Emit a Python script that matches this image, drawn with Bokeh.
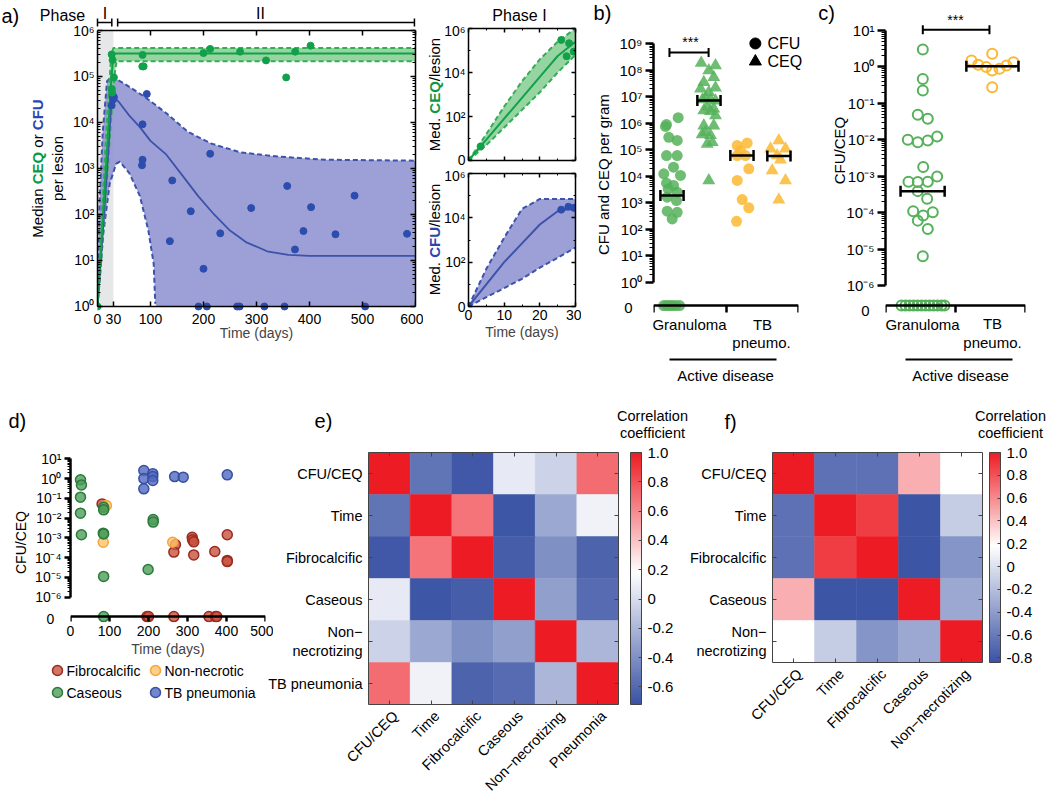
import math
from bokeh.plotting import figure
from bokeh.models import (Range1d, LogAxis, LinearAxis, FixedTicker, CustomJSTickFormatter,
                          Label, Arrow, TeeHead, ColorBar, LinearColorMapper, ColumnDataSource)
from bokeh.embed import file_html
from bokeh.resources import INLINE

FONT = "Liberation Sans"

# ======================= DATA =======================
# ---- panel a (main): model curves, log10 values ----
phase_I_days = [0, 30]
phase_II_days = [30, 600]
a_xticks = [0, 30, 100, 200, 300, 400, 500, 600]
a_ceq_t = [0, 5, 10, 15, 20, 25, 28, 30, 33, 36, 600]
a_ceq_med = [0, 0.95, 1.9, 2.85, 3.8, 4.75, 5.2, 5.45, 5.5, 5.5, 5.5]
a_ceq_hi = [0, 1.2, 2.4, 3.5, 4.5, 5.3, 5.55, 5.62, 5.62, 5.62, 5.62]
a_ceq_lo = [0, 0.7, 1.5, 2.3, 3.1, 4.0, 4.4, 4.7, 5.1, 5.33, 5.33]
a_cfu_med_t = [0, 10, 20, 27, 40, 60, 80, 100, 130, 160, 190, 220, 250, 280, 320, 360, 400, 600]
a_cfu_med = [0, 1.6, 3.3, 4.6, 4.45, 4.15, 3.9, 3.6, 3.3, 2.85, 2.4, 2.0, 1.65, 1.4, 1.2, 1.12, 1.1, 1.1]
a_cfu_hi_t = [0, 4, 10, 18, 27, 50, 90, 130, 170, 215, 270, 340, 430, 600]
a_cfu_hi = [0, 2.3, 3.8, 4.9, 5.0, 4.85, 4.55, 4.2, 3.8, 3.54, 3.35, 3.26, 3.19, 3.17]
a_cfu_lo_t = [0, 11, 23, 35, 42, 60, 80, 96, 106, 109, 112, 600]
a_cfu_lo = [0, 1.6, 2.67, 3.1, 3.15, 2.9, 2.4, 1.65, 0.93, 0.06, 0, 0]
a_ceq_pts_t = [0, 26.7, 28.5, 31, 27, 27.5, 85, 84.5, 87, 200, 212.6, 269, 318, 356, 373, 402]
a_ceq_pts_log = [0, 5.48, 5.36, 4.98, 4.73, 4.65, 5.47, 5.22, 5.22, 5.51, 5.6, 5.54, 5.35, 4.98, 5.54, 5.67]
a_cfu_pts_t = [26.7, 31, 28.5, 29.5, 93, 85, 85, 84, 212.6, 141, 176, 136.5, 231.6, 200, 290, 358,
               403, 388.6, 372.6, 449, 485, 584, 190.6, 206.4, 263.5, 268.2, 314.8, 352.9, 505]
a_cfu_pts_log = [4.37, 4.55, 4.6, 4.5, 4.62, 3.96, 3.19, 3.07, 3.32, 2.74, 2.07, 1.42, 1.59, 0.82, 2.14, 2.62,
                 2.16, 1.64, 1.24, 1.57, 2.41, 1.58, 0, 0, 0, 0, 0, 0, 0]
# ---- panel a insets (Phase I) ----
i_t = [0, 5, 10, 15, 20, 25, 30]
i_ceq_med = [0, 0.95, 1.9, 2.85, 3.8, 4.75, 5.4]
i_ceq_hi = [0, 1.2, 2.45, 3.6, 4.6, 5.4, 6.0]
i_ceq_lo = [0, 0.7, 1.5, 2.3, 3.1, 4.0, 4.8]
i_ceq_pts_t = [0, 3.4, 26, 28.2, 27.5, 29.5]
i_ceq_pts_log = [0, 0.64, 5.48, 5.33, 4.74, 4.95]
i_cfu_med = [0, 1.0, 2.0, 2.85, 3.7, 4.3, 4.47]
i_cfu_hi = [0, 1.7, 3.1, 4.4, 4.85, 4.85, 4.85]
i_cfu_lo = [0, 0.42, 0.83, 1.25, 1.75, 2.2, 2.66]
i_cfu_pts_t = [0, 26, 28, 29.5]
i_cfu_pts_log = [0, 4.37, 4.5, 4.45]
# ---- panel b: CFU and CEQ per gram (log10) ----
b_group_names = ["Granuloma", "TB", "pneumo."]
b_gcfu_x = [0.681, 0.359, 0.331, 0.422, 0.654, 0.359, 0.654, 0.552, 0.284, 0.745, 0.359, 0.552, 0.406,
            0.654, 0.378, 0.634, 0.378, 0.654, 0.516]
b_gcfu_log = [6.21, 5.95, 5.88, 5.47, 5.35, 4.78, 4.78, 4.34, 4.09, 4.03, 3.74, 3.65, 3.52, 3.40, 3.21,
              3.08, 2.68, 2.64, 2.39]
b_gcfu_zero_x = [0.28, 0.36, 0.44, 0.52, 0.61, 0.72]
b_gceq_x = [1.316, 1.710, 1.526, 1.663, 1.388, 1.297, 1.710, 1.526, 1.434, 1.572, 1.710, 1.352, 1.481,
            1.663, 1.388, 1.572, 1.710, 1.388, 1.663, 1.434, 1.572, 1.343, 1.619, 1.481, 1.526]
b_gceq_log = [8.27, 8.18, 7.99, 7.74, 7.55, 7.3, 7.34, 7.17, 6.95, 6.9, 6.85, 6.9, 6.62, 6.55, 6.48, 6.45,
              6.29, 5.91, 5.91, 5.66, 5.55, 5.58, 5.28, 5.22, 3.84]
b_tcfu_x = [2.309, 2.585, 2.400, 2.538, 2.309, 2.629, 2.309, 2.447, 2.629, 2.290]
b_tcfu_log = [5.16, 5.25, 4.97, 4.78, 4.78, 4.28, 3.84, 3.12, 2.81, 2.30]
b_tceq_x = [3.457, 3.228, 3.641, 3.412, 3.503, 3.274, 3.641, 3.457]
b_tceq_log = [5.35, 5.04, 5.04, 4.78, 4.62, 4.22, 3.84, 3.11]
b_median_x = [0.51, 1.53, 2.44, 3.46]
b_median_log = [3.27, 6.86, 4.78, 4.76]
# ---- panel c: CFU/CEQ (log10) ----
c_gran_x = [1.066, 1.066, 1.066, 0.923, 1.209, 0.637, 0.923, 1.209, 1.477, 1.077, 1.477, 0.657, 0.923,
            1.209, 0.923, 1.19, 0.791, 1.077, 1.351, 0.923, 1.209, 1.066]
c_gran_log = [0.48, -0.33, -0.65, -1.31, -1.42, -2.0, -2.07, -2.02, -1.91, -2.75, -3.01, -3.15, -3.16,
              -3.15, -3.41, -3.62, -3.96, -4.08, -3.99, -4.22, -4.45, -5.2]
c_gran_zero_x = [0.457, 0.571, 0.686, 0.8, 0.914, 1.029, 1.143, 1.257, 1.371, 1.486, 1.6, 1.686]
c_tb_x = [3.049, 2.457, 2.649, 2.877, 3.049, 3.257, 3.457, 3.657, 3.049]
c_tb_log = [0.36, 0.18, 0.06, 0.0, -0.1, -0.05, 0.04, 0.13, -0.56]
c_median_span = [[0.43, 1.69], [2.31, 3.80]]
c_median_log = [-3.41, 0.02]
# ---- panel d: CFU/CEQ vs time ----
d_fib_t = [81, 312, 313, 316, 269, 265, 316, 370, 402, 402, 402]
d_fib_log = [-1.28, -2.97, -3.1, -3.2, -3.34, -3.72, -3.86, -3.69, -2.84, -4.14, -4.2]
d_fib_zero_t = [196, 200, 265, 355, 372, 375]
d_non_t = [92, 84, 262]
d_non_log = [-1.36, -3.22, -3.22]
d_cas_t = [25.6, 28, 25.6, 25.6, 28, 85, 85, 84, 85, 85, 212, 212, 199]
d_cas_log = [-0.06, -0.32, -0.94, -1.75, -2.84, -1.45, -1.58, -2.76, -2.8, -4.95, -2.07, -2.2, -4.6]
d_cas_zero_t = [85]
d_tb_t = [188, 188, 188, 211, 211, 211, 267, 289, 402]
d_tb_log = [0.41, 0.0, -0.52, 0.25, 0.1, -0.1, 0.1, 0.07, 0.19]
d_names = ["Fibrocalcific", "Non-necrotic", "Caseous", "TB pneumonia"]
d_xticks = [0, 100, 200, 300, 400, 500]
# ---- panel e / f: correlation matrices ----
e_rows = ["CFU/CEQ", "Time", "Fibrocalcific", "Caseous", "Non\u2212\nnecrotizing", "TB pneumonia"]
e_cols = ["CFU/CEQ", "Time", "Fibrocalcific", "Caseous", "Non\u2212necrotizing", "Pneumonia"]
e_corr = [[1.00, -0.54, -0.69, 0.07, -0.05, 0.71],
          [-0.54, 1.00, 0.68, -0.70, -0.27, 0.11],
          [-0.69, 0.68, 1.00, -0.66, -0.40, -0.63],
          [0.07, -0.70, -0.66, 1.00, -0.32, -0.59],
          [-0.05, -0.27, -0.40, -0.32, 1.00, -0.20],
          [0.71, 0.11, -0.63, -0.59, -0.20, 1.00]]
e_ticks = [-0.6, -0.4, -0.2, 0, 0.2, 0.4, 0.6, 0.8, 1.0]
f_rows = ["CFU/CEQ", "Time", "Fibrocalcific", "Caseous", "Non\u2212\nnecrotizing"]
f_cols = ["CFU/CEQ", "Time", "Fibrocalcific", "Caseous", "Non\u2212necrotizing"]
f_corr = [[1.00, -0.66, -0.66, 0.47, 0.18],
          [-0.66, 1.00, 0.88, -0.82, -0.12],
          [-0.66, 0.88, 1.00, -0.82, -0.45],
          [0.47, -0.82, -0.82, 1.00, -0.33],
          [0.18, -0.12, -0.45, -0.33, 1.00]]
f_ticks = [-0.8, -0.6, -0.4, -0.2, 0, 0.2, 0.4, 0.6, 0.8, 1.0]

# ======================= HELPERS =======================
SUP_CODE = """
const m = {"-":"\u207b","0":"\u2070","1":"\u00b9","2":"\u00b2","3":"\u00b3","4":"\u2074","5":"\u2075","6":"\u2076","7":"\u2077","8":"\u2078","9":"\u2079"};
const e = Math.round(Math.log10(tick));
if (zl && e == 0) { return "0"; }
return "10" + String(e).split("").map(c => m[c]).join("");
"""


def sup_fmt(zero=False):
    return CustomJSTickFormatter(args=dict(zl=zero), code=SUP_CODE)


def P(arr):
    return [10.0 ** v for v in arr]


def decades(a, b):
    return [10.0 ** d for d in range(a, b + 1)]


def log_minor(a, b):
    return [k * 10.0 ** d for d in range(a, b) for k in range(2, 10)]


def mkfig(name, w, h, l, r, t, b, xr, yr, ylog=False):
    p = figure(name=name, width=w, height=h, x_range=xr, y_range=yr,
               y_axis_type="log" if ylog else "linear",
               min_border_left=l, min_border_right=r, min_border_top=t, min_border_bottom=b,
               output_backend="svg", toolbar_location=None)
    p.grid.visible = False
    p.outline_line_color = None
    p.background_fill_color = "white"
    p.border_fill_color = "white"
    return p


def style_axis(ax, size=14, lw=1.5, tin=0, tout=5, mtin=0, mtout=0, show=True, color="black"):
    ax.axis_line_width = lw
    ax.axis_line_color = color
    ax.major_tick_line_width = lw
    ax.minor_tick_line_width = 1
    ax.major_tick_line_color = color
    ax.minor_tick_line_color = color
    ax.major_tick_in = tin
    ax.major_tick_out = tout
    ax.minor_tick_in = mtin
    ax.minor_tick_out = mtout
    ax.major_label_text_font = FONT
    ax.major_label_text_font_size = f"{size}px"
    ax.major_label_text_color = "black"
    ax.major_label_standoff = 3
    ax.axis_label_text_font = FONT
    ax.axis_label_text_font_size = f"{size}px"
    ax.axis_label_text_font_style = "normal"
    ax.axis_label_standoff = 3
    if not show:
        ax.formatter = CustomJSTickFormatter(code="return '';")
        ax.major_label_text_color = None
        ax.major_label_text_font_size = "0px"
        ax.major_label_standoff = 0


def labels_only_axis(ticks, size, label, standoff, label_standoff):
    ax = LinearAxis(ticker=FixedTicker(ticks=ticks))
    style_axis(ax, size=size)
    ax.axis_line_color = None
    ax.major_tick_line_color = None
    ax.minor_tick_line_color = None
    ax.major_label_standoff = standoff
    ax.axis_label = label
    ax.axis_label_standoff = label_standoff
    return ax


def box_axes(p, xt, xm, yt, ym, ylog, lw=1.5, tin=5, mtin=3, color="black", xb=None, yb=None):
    ta = LinearAxis(ticker=FixedTicker(ticks=xt, minor_ticks=xm))
    style_axis(ta, lw=lw, tin=tin, tout=0, mtin=mtin, show=False, color=color)
    if xb:
        ta.bounds = xb
    p.add_layout(ta, "above")
    ra = (LogAxis if ylog else LinearAxis)(ticker=FixedTicker(ticks=yt, minor_ticks=ym))
    style_axis(ra, lw=lw, tin=tin, tout=0, mtin=mtin, show=False, color=color)
    if yb:
        ra.bounds = yb
    p.add_layout(ra, "right")


GREEN_A = "#12a14b"
GREEN_BAND = "#7cc98a"
GREEN_DASH = "#35ad57"
BLUE_A = "#2d4dae"
BLUE_BAND = "#9296d2"
BLUE_DASH = "#3d52aa"
GREEN_TXT = "#0a9a45"
BLUE_TXT = "#2b46b0"
GREEN_B = "#55b15a"
ORANGE = "#fbb833"

# ======================= PANEL a (main) =======================
fa = mkfig("fa", 381, 349, 55, 8, 8, 60, Range1d(0, 600), Range1d(10 ** -0.109, 1e6), ylog=True)
ya = fa.yaxis[0]
ya.ticker = FixedTicker(ticks=decades(0, 6), minor_ticks=log_minor(0, 6))
ya.formatter = sup_fmt()
ya.bounds = (1, 1e6)
style_axis(ya, tin=5, tout=0, mtin=3)
xa = fa.xaxis[0]
xa.ticker = FixedTicker(ticks=a_xticks)
xa.fixed_location = 1
xa.bounds = (0, 600)
style_axis(xa, tin=5, tout=0, show=False)
fa.add_layout(labels_only_axis(a_xticks, 14, "Time (days)", -3, -2), "below")
box_axes(fa, a_xticks[2:], [], decades(0, 6), log_minor(0, 6), True, xb=(0, 600), yb=(1, 1e6))

fa.quad(left=phase_I_days[0], right=phase_I_days[1], bottom=1, top=1e6, fill_color="#e6e7e8", line_color=None)
fa.patch(a_cfu_hi_t + a_cfu_lo_t[::-1], P(a_cfu_hi) + P(a_cfu_lo[::-1]), fill_color=BLUE_BAND,
         fill_alpha=0.9, line_color=None)
fa.patch(a_ceq_t + a_ceq_t[::-1], P(a_ceq_hi) + P(a_ceq_lo[::-1]), fill_color=GREEN_BAND,
         fill_alpha=0.8, line_color=None)
fa.line(a_cfu_hi_t, P(a_cfu_hi), line_color=BLUE_DASH, line_dash="5 3", line_width=2)
fa.line(a_cfu_lo_t[:10], P(a_cfu_lo[:10]), line_color=BLUE_DASH, line_dash="5 3", line_width=2)
fa.line(a_ceq_t, P(a_ceq_hi), line_color=GREEN_DASH, line_dash="5 3", line_width=2)
fa.line(a_ceq_t, P(a_ceq_lo), line_color=GREEN_DASH, line_dash="5 3", line_width=2)
fa.line(a_cfu_med_t, P(a_cfu_med), line_color=BLUE_DASH, line_width=1.8)
fa.line(a_ceq_t, P(a_ceq_med), line_color=GREEN_A, line_width=2)
fa.scatter(a_cfu_pts_t, P(a_cfu_pts_log), size=7, color=BLUE_A)
fa.scatter(a_ceq_pts_t, P(a_ceq_pts_log), size=7, color=GREEN_A)


# ======================= PANEL a insets =======================
def inset(name, h, top, bottom, show_x):
    p = mkfig(name, 151, h, 38, 6, top, bottom, Range1d(0, 30), Range1d(1, 1e6), ylog=True)
    y = p.yaxis[0]
    y.ticker = FixedTicker(ticks=[1, 1e2, 1e4, 1e6], minor_ticks=[10, 1e3, 1e5])
    y.formatter = sup_fmt(True)
    style_axis(y, tin=4, tout=0, mtin=2)
    x = p.xaxis[0]
    x.ticker = FixedTicker(ticks=[0, 10, 20, 30], minor_ticks=[5, 15, 25])
    style_axis(x, tin=4, tout=0, mtin=2, show=show_x)
    if show_x:
        x.axis_label = "Time (days)"
        x.axis_label_standoff = 1
    box_axes(p, [0, 10, 20, 30], [5, 15, 25], [1, 1e2, 1e4, 1e6], [10, 1e3, 1e5], True, tin=4, mtin=2)
    return p


fi1 = inset("fi1", 145, 6, 7, False)
fi1.patch(i_t + i_t[::-1], P(i_ceq_hi) + P(i_ceq_lo[::-1]), fill_color=GREEN_BAND, fill_alpha=0.8, line_color=None)
fi1.line(i_t, P(i_ceq_hi), line_color=GREEN_DASH, line_dash="5 3", line_width=2)
fi1.line(i_t, P(i_ceq_lo), line_color=GREEN_DASH, line_dash="5 3", line_width=2)
fi1.line(i_t, P(i_ceq_med), line_color=GREEN_A, line_width=2)
fi1.scatter(i_ceq_pts_t, P(i_ceq_pts_log), size=7, color=GREEN_A)

fi2 = inset("fi2", 187, 6, 48, True)
fi2.patch(i_t + i_t[::-1], P(i_cfu_hi) + P(i_cfu_lo[::-1]), fill_color=BLUE_BAND, fill_alpha=0.9, line_color=None)
fi2.line(i_t, P(i_cfu_hi), line_color=BLUE_DASH, line_dash="5 3", line_width=2)
fi2.line(i_t, P(i_cfu_lo), line_color=BLUE_DASH, line_dash="5 3", line_width=2)
fi2.line(i_t, P(i_cfu_med), line_color=BLUE_DASH, line_width=2)
fi2.scatter(i_cfu_pts_t, P(i_cfu_pts_log), size=7, color=BLUE_A)

# ======================= PANEL b =======================
b_zero = 10 ** -0.88
fb = mkfig("fb", 196, 303, 45, 6, 6, 14, Range1d(0, 4), Range1d(10 ** -1.18, 10 ** 9.5), ylog=True)
y = fb.yaxis[0]
y.ticker = FixedTicker(ticks=decades(0, 9), minor_ticks=log_minor(0, 9))
y.formatter = sup_fmt()
y.bounds = (1, 1e9)
style_axis(y, size=15, lw=2.5, tin=0, tout=8, mtout=4)
x = fb.xaxis[0]
x.ticker = FixedTicker(ticks=[0, 2, 4])
x.fixed_location = b_zero
style_axis(x, lw=2.5, tin=0, tout=7, show=False)

fb.scatter(b_gcfu_x, P(b_gcfu_log), size=11, fill_color=GREEN_B, fill_alpha=0.85, line_color=None)
fb.scatter(b_gcfu_zero_x, [b_zero] * len(b_gcfu_zero_x), size=11, fill_color=GREEN_B, fill_alpha=0.85,
           line_color=None)
fb.scatter(b_gceq_x, P(b_gceq_log), marker="triangle", size=13, fill_color=GREEN_B, fill_alpha=0.85,
           line_color=None)
fb.scatter(b_tcfu_x, P(b_tcfu_log), size=11, fill_color=ORANGE, fill_alpha=0.85, line_color=None)
fb.scatter(b_tceq_x, P(b_tceq_log), marker="triangle", size=13, fill_color=ORANGE, fill_alpha=0.85,
           line_color=None)
hw = 0.32
fb.segment([c - hw for c in b_median_x], P(b_median_log), [c + hw for c in b_median_x], P(b_median_log),
           line_color="black", line_width=2.5)
fb.scatter([c - hw for c in b_median_x] + [c + hw for c in b_median_x], P(b_median_log) * 2, marker="dash",
           angle=math.pi / 2, size=11, line_color="black", line_width=2.5)
sig_b = [0.44, 1.52]
fb.segment([sig_b[0]], [10 ** 8.67], [sig_b[1]], [10 ** 8.67], line_color="black", line_width=2)
fb.scatter(sig_b, [10 ** 8.67] * 2, marker="dash", angle=math.pi / 2, size=9, line_color="black", line_width=2)
fb.scatter([2.81], [10 ** 9.01], size=11, color="black")
fb.scatter([2.81], [10 ** 8.33], marker="triangle", size=12, color="black")

# ======================= PANEL c =======================
c_zero = 10 ** -6.55
fc = mkfig("fc", 191, 311, 45, 6, 6, 14, Range1d(0, 4), Range1d(10 ** -6.77, 10 ** 1.22), ylog=True)
y = fc.yaxis[0]
y.ticker = FixedTicker(ticks=decades(-6, 1), minor_ticks=log_minor(-6, 1))
y.formatter = sup_fmt()
y.bounds = (1e-6, 10)
style_axis(y, size=15, lw=2.5, tin=0, tout=8, mtout=4)
x = fc.xaxis[0]
x.ticker = FixedTicker(ticks=[0, 2, 4])
x.fixed_location = c_zero
style_axis(x, lw=2.5, tin=0, tout=7, show=False)
fc.scatter(c_gran_x, P(c_gran_log), size=10, fill_color=None, line_color=GREEN_B, line_width=2)
fc.scatter(c_gran_zero_x, [c_zero] * len(c_gran_zero_x), size=10, fill_color=None, line_color=GREEN_B,
           line_width=2)
fc.scatter(c_tb_x, P(c_tb_log), size=10, fill_color=None, line_color=ORANGE, line_width=2)
for span, m in zip(c_median_span, c_median_log):
    fc.segment([span[0]], [10 ** m], [span[1]], [10 ** m], line_color="black", line_width=2.5)
    fc.scatter(span, [10 ** m] * 2, marker="dash", angle=math.pi / 2, size=11, line_color="black", line_width=2.5)
sig_c = [1.066, 2.97]
fc.segment([sig_c[0]], [10 ** 1.02], [sig_c[1]], [10 ** 1.02], line_color="black", line_width=2)
fc.scatter(sig_c, [10 ** 1.02] * 2, marker="dash", angle=math.pi / 2, size=9, line_color="black", line_width=2)

# ======================= PANEL d =======================
d_zero = 10 ** -6.98
fd = mkfig("fd", 248, 233, 45, 8, 6, 55, Range1d(0, 500), Range1d(10 ** -7.28, 10 ** 1.42), ylog=True)
y = fd.yaxis[0]
y.ticker = FixedTicker(ticks=decades(-6, 1), minor_ticks=log_minor(-6, 1))
y.formatter = sup_fmt()
y.bounds = (1e-6, 10)
style_axis(y, size=14, lw=2.5, tin=0, tout=6, mtout=3)
x = fd.xaxis[0]
x.ticker = FixedTicker(ticks=d_xticks)
x.fixed_location = d_zero
style_axis(x, lw=2.5, tin=0, tout=5, show=False)
fd.add_layout(labels_only_axis(d_xticks, 14, "Time (days)", -2, 2), "below")
DCOL = {"fib": ("#c8523f", "#9a2b20"), "non": ("#fdc36b", "#f5a53a"), "cas": ("#4e9d5b", "#2d7a3b"),
        "tb": ("#5069bf", "#3a4fa3")}


def dsc(p, t, yv, key):
    return p.scatter(t, yv, size=10, fill_color=DCOL[key][0], fill_alpha=0.8, line_color=DCOL[key][1],
                     line_width=1.5)


dsc(fd, d_fib_t, P(d_fib_log), "fib")
dsc(fd, d_fib_zero_t, [d_zero] * len(d_fib_zero_t), "fib")
dsc(fd, d_non_t, P(d_non_log), "non")
dsc(fd, d_cas_t, P(d_cas_log), "cas")
dsc(fd, d_cas_zero_t, [d_zero] * len(d_cas_zero_t), "cas")
dsc(fd, d_tb_t, P(d_tb_log), "tb")


# ======================= PANELS e, f =======================
def make_palette(low, high, mid, n=256):
    blue = (58, 83, 164)
    red = (237, 28, 36)
    out = []
    for k in range(n):
        v = low + (high - low) * k / (n - 1)
        if v <= mid:
            t = (v - low) / (mid - low)
            c = [blue[i] + (255 - blue[i]) * t for i in range(3)]
        else:
            t = (v - mid) / (high - mid)
            c = [255 + (red[i] - 255) * t for i in range(3)]
        out.append("#%02x%02x%02x" % tuple(int(round(z)) for z in c))
    return out


def heatmap(name, w, h, l, r, fh, rows, cols, corr, low, high, ticks, cb_x):
    nr, nc = len(rows), len(cols)
    p = mkfig(name, w, h, l, r, 14, 6, Range1d(0, nc), Range1d(0, nr))
    mapper = LinearColorMapper(palette=make_palette(low, high, 0.18), low=low, high=high)
    xs, ys, vs = [], [], []
    for i in range(nr):
        for j in range(nc):
            xs.append(j + 0.5)
            ys.append(nr - 1 - i + 0.5)
            vs.append(corr[i][j])
    src = ColumnDataSource(dict(x=xs, y=ys, v=vs))
    p.rect(x="x", y="y", width=1, height=1, source=src, fill_color={"field": "v", "transform": mapper},
           line_color={"field": "v", "transform": mapper}, line_width=0.5)
    xt = [j + 0.5 for j in range(nc)]
    yt = [i + 0.5 for i in range(nr)]
    p.xaxis[0].ticker = FixedTicker(ticks=xt)
    style_axis(p.xaxis[0], lw=1, tin=4, tout=0, show=False, color="#444")
    p.yaxis[0].ticker = FixedTicker(ticks=yt)
    style_axis(p.yaxis[0], lw=1, tin=4, tout=0, show=False, color="#444")
    box_axes(p, xt, [], yt, [], False, lw=1, tin=4, mtin=0, color="#444")
    cb = ColorBar(color_mapper=mapper, location=(cb_x, 0), width=11, height=fh, padding=0, margin=0,
                  ticker=FixedTicker(ticks=ticks),
                  formatter=CustomJSTickFormatter(code="return Math.abs(tick) < 1e-9 ? '0' : tick.toFixed(1);"),
                  major_label_text_font=FONT, major_label_text_font_size="15px", major_label_text_color="black",
                  label_standoff=6, major_tick_in=3, major_tick_out=0, major_tick_line_color="#444",
                  bar_line_color="#444", border_line_color=None, background_fill_alpha=0)
    p.add_layout(cb)
    return p


fe = heatmap("fe", 316, 272, 6, 60, 252, e_rows, e_cols, e_corr, -0.72, 1.0, e_ticks, 262)
ff = heatmap("ff", 278, 230, 6, 62, 210, f_rows, f_cols, f_corr, -0.84, 1.0, f_ticks, 217)

# ======================= TEXT OVERLAY (page pixel coordinates) =======================
ov = figure(name="ov", width=1050, height=797, x_range=Range1d(0, 1050), y_range=Range1d(797, 0),
            x_axis_type=None, y_axis_type=None, min_border=0, output_backend="svg", toolbar_location=None)
ov.outline_line_color = None
ov.background_fill_color = None
ov.border_fill_color = None


def T(text, x, y, size=15, align="center", baseline="middle", color="black", bold=False, angle=0.0):
    ov.add_layout(Label(x=x, y=y, text=text, text_font=FONT, text_font_size=f"{size}px", text_align=align,
                        text_baseline=baseline, text_color=color,
                        text_font_style="bold" if bold else "normal", angle=angle))


ARIAL = {' ': 278, '.': 278, '/': 278, 'M': 833, 'e': 556, 'd': 556, 'i': 222, 'a': 556, 'n': 556,
         'o': 556, 'r': 333, 'p': 556, 'l': 222, 's': 500, 'C': 722, 'E': 667, 'Q': 778, 'F': 611, 'U': 722}


def tw(s, size):
    return sum(ARIAL.get(c, 556) for c in s) * size / 1000.0


def rot_parts(parts, x, yc, size):
    total = sum(tw(t, size) for t, _, _ in parts)
    pos = yc + total / 2.0
    for raw, color, bold in parts:
        lead = len(raw) - len(raw.lstrip())
        T(raw.strip(), x, pos - tw(raw[:lead], size), size=size, align="left", color=color, bold=bold,
          angle=math.pi / 2)
        pos -= tw(raw, size)


# panel a frame geometry (page px) for annotations
A_L, A_R = 97, 415


def a_px(t):
    return A_L + (A_R - A_L) * t / 600.0


T("a)", 1, 15, size=20, align="left")
T("Phase", 62, 15, size=16)
T("I", a_px(sum(phase_I_days) / 2) - 0.5, 13, size=16)
T("II", a_px(sum(phase_II_days) / 2) - 4, 13, size=16)
for d0, d1 in [(phase_I_days[0], phase_I_days[1] - 3), (phase_II_days[0] + 8, phase_II_days[1] - 2)]:
    ov.add_layout(Arrow(x_start=a_px(d0), y_start=22, x_end=a_px(d1), y_end=22, line_width=1.5,
                        start=TeeHead(size=8, line_width=1.5), end=TeeHead(size=8, line_width=1.5)))
rot_parts([("Median ", "black", False), ("CEQ", GREEN_TXT, True), (" or ", "black", False),
           ("CFU", BLUE_TXT, True)], 37, 168, 15)
T("per lesion", 57, 168, size=15, angle=math.pi / 2)
T("Phase I", 519, 15, size=16)
rot_parts([("Med. ", "black", False), ("CEQ", GREEN_TXT, True), ("/lesion", "black", False)], 434, 94, 15)
rot_parts([("Med. ", "black", False), ("CFU", BLUE_TXT, True), ("/lesion", "black", False)], 434, 239, 15)

# panel b / c texts
T("b)", 602, 12, size=20)
T("CFU  and CEQ per gram", 603, 172, size=15, angle=math.pi / 2)
T("0", 628, 307, size=15)
T("***", 690, 49, size=14, baseline="bottom")
T("CFU", 767, 43, size=16, align="left")
T("CEQ", 767, 61, size=16, align="left")
T(b_group_names[0], 689, 324, size=15)
T(b_group_names[1], 762, 324, size=15)
T(b_group_names[2], 761, 342, size=15)
ov.segment([669], [359], [776], [359], line_color="black", line_width=2)
T("Active disease", 725, 375, size=15)

T("c)", 826, 12, size=20)
T("CFU/CEQ", 839, 150, size=15, angle=math.pi / 2)
T("0", 865, 310, size=15)
T("***", 955, 27, size=14, baseline="bottom")
T(b_group_names[0], 922, 324, size=15)
T(b_group_names[1], 992, 323, size=15)
T(b_group_names[2], 992, 342, size=15)
ov.segment([905], [359], [1012], [359], line_color="black", line_width=2)
T("Active disease", 960, 375, size=15)

# panel d texts + legend
T("d)", 8, 420, size=20, align="left")
T("CFU/CEQ", 20, 542, size=14, angle=math.pi / 2)
T("0", 50, 618, size=14)
leg_keys = ["fib", "non", "cas", "tb"]
leg_xy = [(57, 670), (155, 670), (57, 692), (155, 692)]
for k, nm, (lx, ly) in zip(leg_keys, d_names, leg_xy):
    dsc(ov, [lx], [ly], k)
    T(nm, lx + 9, ly, size=14, align="left")


# heatmap tick labels
def heat_labels(left, top, fw, fh, rows, cols):
    nr, nc = len(rows), len(cols)
    for i, name in enumerate(rows):
        yc = top + (i + 0.5) * fh / nr
        lines = name.split("\n")
        if len(lines) == 1:
            T(lines[0], left - 6, yc, size=14.5, align="right")
        else:
            T(lines[0], left - 6, yc - 9.5, size=14.5, align="right")
            T(lines[1], left - 6, yc + 9.5, size=14.5, align="right")
    for j, name in enumerate(cols):
        T(name, left + (j + 0.5) * fw / nc + 6, top + fh + 9, size=14.5, align="right", angle=math.pi / 4)


heat_labels(368, 452, 250, 252, e_rows, e_cols)
heat_labels(772, 452, 210, 210, f_rows, f_cols)
T("e)", 323, 420, size=20)
T("Correlation", 652, 415, size=14.5)
T("coefficient", 652, 432, size=14.5)
T("f)", 730, 421, size=20)
T("Correlation", 1010, 415, size=14.5)
T("coefficient", 1010, 432, size=14.5)

# ======================= PAGE =======================
pos = {"fa": (42, 22), "fi1": (430, 22), "fi2": (430, 167), "fb": (608, 24), "fc": (840, 16),
       "fd": (25, 444), "fe": (362, 438), "ff": (766, 438), "ov": (0, 0)}

TEMPLATE = """
{% from macros import embed %}
{% block postamble %}<style>html, body { overflow: hidden; }</style>{% endblock %}
{% block root %}
<div style="position:absolute; left:{{ pos[root.name][0] }}px; top:{{ pos[root.name][1] }}px;">
{{ embed(root) }}
</div>
{% endblock %}
"""

models = [fa, fi1, fi2, fb, fc, fd, fe, ff, ov]
html = file_html(models, INLINE, "Figure", template=TEMPLATE, template_variables={"pos": pos})
open("out.html", "w").write(html)
